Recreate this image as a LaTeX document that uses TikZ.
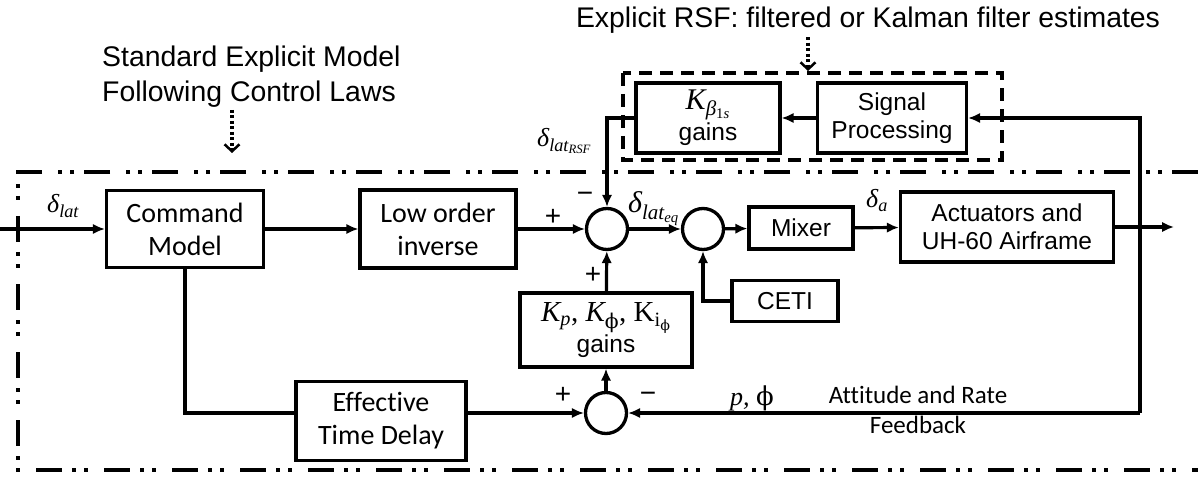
\documentclass[tikz,border=0pt]{standalone}
\usepackage{fontspec}
\setmainfont{Liberation Sans}
\newfontfamily\califont[Ligatures=NoCommon]{Carlito}
\newfontfamily\tmsfont{Liberation Serif}
\newfontfamily\phifont{DejaVu Serif}
\usetikzlibrary{arrows.meta,positioning}

\newcommand\arialsz{\fontsize{24.5}{28}\selectfont}
\newcommand\calisz{\califont\fontsize{28}{33}\selectfont}
\newcommand\uphi{{\phifont\upshape ϕ}}

\begin{document}
\begin{tikzpicture}[
  x=1pt,y=-1pt,
  >={Latex[length=12pt,width=10.5pt]},
  blk/.style={draw,line width=3.3pt,align=center,inner sep=0pt,font=\calisz},
  ablk/.style={blk,font=\arialsz},
  sumnode/.style={circle,draw,line width=3.3pt,minimum size=41pt,inner sep=0pt},
  sig/.style={->,line width=3.2pt},
  wire/.style={line width=3.2pt},
  hint/.style={-{Straight Barb[length=7pt,width=15pt,line width=2.5pt]},
               line width=3.2pt,dash pattern=on 3pt off 2.5pt},
  outerframe/.style={line width=4pt,
               dash pattern=on 26pt off 10pt on 4pt off 8pt on 4pt off 16pt},
  rsfframe/.style={line width=4pt,dash pattern=on 13pt off 8pt},
  sgn/.style={font=\fontsize{28}{28}\selectfont,inner sep=0pt},
  mlbl/.style={font=\tmsfont\itshape\fontsize{26}{27}\selectfont,inner sep=0pt},
  note/.style={font=\fontsize{28.4}{35}\selectfont,inner sep=0pt},
]
\useasboundingbox[fill=white] (0,0) rectangle (1198,478);

% ---- annotations above the loop ----
\node[note,align=left,anchor=north west] (stdlbl) at (102,46)
     {Standard Explicit Model\\Following Control Laws};
\node[note,anchor=base] (rsflbl) at (868,28)
     {Explicit RSF: filtered or Kalman filter estimates};
\coordinate (stdtip) at (232,153);
\coordinate (rsftip) at (808,71);
\draw[hint] ([yshift=-2pt]stdlbl.south -| stdtip) -- (stdtip);
\draw[hint] ([yshift=-3pt]rsflbl.south -| rsftip) -- (rsftip);

% ---- forward path ----
\node[blk,minimum width=157pt,minimum height=77pt] (cmd) at (185,229)
     {Command\\Model};
\node[blk,minimum width=156pt,minimum height=78pt] (lowinv) at (438,229)
     {Low order\\inverse};
\node[sumnode] (sumA) at (607,229) {};
\node[sumnode] (sumB) at (703,229) {};
\node[ablk,minimum width=104pt,minimum height=42pt] (mixer) at (801,228) {Mixer};
\node[ablk,minimum width=213pt,minimum height=70pt] (act) at (1007,227)
     {Actuators and\\UH-60 Airframe};
\node[ablk,minimum width=106pt,minimum height=41pt] (ceti) at (785,301) {CETI};

% ---- feedback gains and delay ----
\node[ablk,minimum width=172pt,minimum height=74pt] (kgain) at (606,330)
     {{\tmsfont\fontsize{29}{30}\selectfont{\itshape K\textsubscript{p}}, {\itshape K}\textsubscript{\uphi}, K\textsubscript{i\textsubscript{\uphi}}}\\gains};
\node[sumnode] (sumC) at (606,413) {};
\node[blk,minimum width=170pt,minimum height=79pt] (etd) at (381,421)
     {Effective\\Time Delay};

% ---- explicit RSF path ----
\node[ablk,minimum width=144pt,minimum height=70pt] (kbeta) at (708,118)
     {{\tmsfont\itshape\fontsize{30}{30}\selectfont K\textsubscript{β\textsubscript{\upshape 1\itshape s}}}\\[2pt]gains};
\node[ablk,minimum width=149pt,minimum height=70pt] (sigproc) at (892,118)
     {Signal\\Processing};
\draw[rsfframe] (623,73) rectangle (1002,160);

% ---- frame of the standard laws ----
\draw[outerframe] (1198,172) -- (18,172) -- (18,470) -- (1198,470);

% ---- connectors ----
\coordinate (inp) at (0,229);
\coordinate (outp) at (1174,227);
\coordinate (fbturn) at (1140,413);

\draw[sig] (inp) -- (cmd);
\draw[sig] (cmd) -- (lowinv);
\draw[sig] (lowinv) -- (sumA);
\draw[sig] (sumA) -- (sumB);
\draw[sig] (sumB) -- (mixer);
\draw[sig] (mixer) -- (act);
\draw[sig] (act) -- (outp);
\draw[sig] (fbturn) |- (sigproc.east);
\draw[sig] (fbturn) -- (sumC.east);
\draw[sig] (sigproc) -- (kbeta);
\draw[sig] (kbeta.west) -| (sumA.north);
\draw[sig] (kgain) -- (sumA);
\draw[sig] (ceti.west) -| (sumB.south);
\draw[wire] (cmd.south) |- (etd.west |- sumC.west);
\draw[sig] (etd.east |- sumC.west) -- (sumC.west);
\draw[sig] (sumC) -- (kgain);

% ---- signal labels and signs ----
\node[mlbl,anchor=base west] (lbllat) at (47,213) {δ\textsubscript{lat}};
\node[mlbl,anchor=base west,font=\tmsfont\itshape\fontsize{30}{30}\selectfont]
     (lbleq) at (628,213) {δ\textsubscript{lat\textsubscript{eq}}};
\node[mlbl,anchor=base west] (lblrsf) at (537,147) {δ\textsubscript{lat\textsubscript{RSF}}};
\node[mlbl,anchor=base west] (lbla) at (866,208) {δ\textsubscript{a}};
\node[mlbl,anchor=base] (lblpphi) at (752,405) {p, \uphi};
\node[font=\califont\fontsize{25}{30}\selectfont,align=center,anchor=north,inner sep=0pt]
     (lblfb) at (918,386) {Attitude and Rate\\Feedback};

\node[sgn] (plusA)  at (553,217) {+};
\node[sgn] (minusA) at (585,197) {−};
\node[sgn] (plusK)  at (593,275) {+};
\node[sgn] (plusC)  at (563,395) {+};
\node[sgn] (minusC) at (648,397) {−};

\end{tikzpicture}
\end{document}
